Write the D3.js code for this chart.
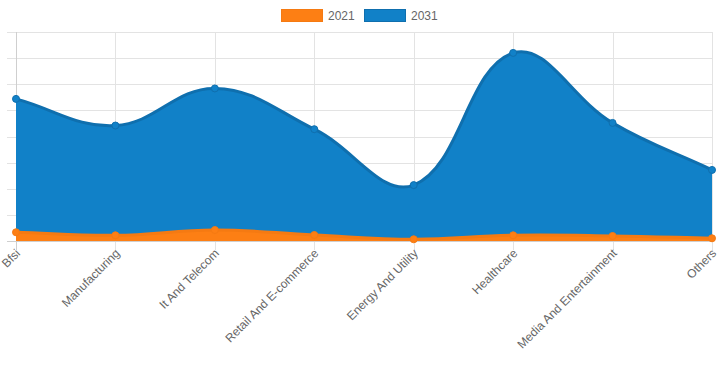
<!DOCTYPE html>
<html>
<head>
<meta charset="utf-8">
<script src="https://cdn.jsdelivr.net/npm/d3@7"></script>
<style>
  body { margin: 0; background: #fff; }
  svg { display: block; font-family: "Liberation Sans", Arial, sans-serif; }
</style>
</head>
<body>
<svg width="720" height="371"></svg>
<script>
var categories = ["Bfsi", "Manufacturing", "It And Telecom", "Retail And E-commerce",
  "Energy And Utility", "Healthcare", "Media And Entertainment", "Others"];
var values2021 = [1.67, 1.09, 2.1, 1.15, 0.33, 1.09, 0.96, 0.52];
var values2031 = [27.2, 22.1, 29.2, 21.4, 10.7, 36.0, 22.6, 13.6];
var yTicks = [0, 5, 10, 15, 20, 25, 30, 35, 40];

var svg = d3.select("svg");
var plotL = 16, plotR = 712, plotT = 32, plotB = 241;

var x = d3.scalePoint().domain(categories).range([plotL, plotR]);
var y = d3.scaleLinear().domain([0, 40]).range([plotB, plotT]);

// grid
var grid = svg.append("g").attr("stroke", "#e3e3e3").attr("stroke-width", 1);
grid.selectAll(".h").data(yTicks).enter().append("line")
  .attr("x1", plotL - 9).attr("x2", plotR)
  .attr("y1", d => Math.round(y(d)) + 0.5).attr("y2", d => Math.round(y(d)) + 0.5);
grid.selectAll(".v").data(categories).enter().append("line")
  .attr("x1", d => Math.round(x(d)) + 0.5).attr("x2", d => Math.round(x(d)) + 0.5)
  .attr("y1", plotT).attr("y2", plotB + 9);
svg.append("line").attr("stroke", "#cfcfcf")
  .attr("x1", plotL + 0.5).attr("x2", plotL + 0.5).attr("y1", plotT).attr("y2", plotB + 9);
svg.append("line").attr("stroke", "#cfcfcf")
  .attr("x1", plotL - 9).attr("x2", plotR).attr("y1", plotB + 0.5).attr("y2", plotB + 0.5);

// chart.js style spline
function splinePath(pts, closeToBase) {
  var t = 0.4, n = pts.length, cps = [];
  for (var i = 0; i < n; i++) {
    var prev = pts[Math.max(0, i - 1)], cur = pts[i], next = pts[Math.min(n - 1, i + 1)];
    var d01 = Math.hypot(cur[0] - prev[0], cur[1] - prev[1]);
    var d12 = Math.hypot(next[0] - cur[0], next[1] - cur[1]);
    var s01 = d01 / (d01 + d12), s12 = d12 / (d01 + d12);
    if (isNaN(s01)) s01 = 0; if (isNaN(s12)) s12 = 0;
    var fa = t * s01, fb = t * s12;
    var cp1 = [cur[0] - fa * (next[0] - prev[0]), cur[1] - fa * (next[1] - prev[1])];
    var cp2 = [cur[0] + fb * (next[0] - prev[0]), cur[1] + fb * (next[1] - prev[1])];
    [cp1, cp2].forEach(function (c) {
      c[0] = Math.max(plotL, Math.min(plotR, c[0]));
      c[1] = Math.max(plotT, Math.min(plotB, c[1]));
    });
    cps.push([cp1, cp2]);
  }
  var p = d3.path();
  p.moveTo(pts[0][0], pts[0][1]);
  for (var j = 1; j < n; j++) {
    p.bezierCurveTo(cps[j - 1][1][0], cps[j - 1][1][1], cps[j][0][0], cps[j][0][1], pts[j][0], pts[j][1]);
  }
  if (closeToBase) {
    p.lineTo(pts[n - 1][0], plotB);
    p.lineTo(pts[0][0], plotB);
    p.closePath();
  }
  return p.toString();
}

var series = [
  { label: "2031", values: values2031, fill: "#1181c8", stroke: "#0f6fae" },
  { label: "2021", values: values2021, fill: "#fd7f14", stroke: "#f57a12" }
];

series.forEach(function (s) {
  var pts = categories.map((c, i) => [x(c), y(s.values[i])]);
  var g = svg.append("g");
  g.append("path").attr("d", splinePath(pts, true)).attr("fill", s.fill);
  g.append("path").attr("d", splinePath(pts, false)).attr("fill", "none")
    .attr("stroke", s.stroke).attr("stroke-width", 3);
  g.selectAll("circle").data(pts).enter().append("circle")
    .attr("cx", d => d[0]).attr("cy", d => d[1]).attr("r", 3.5)
    .attr("fill", s.fill).attr("stroke", s.stroke).attr("stroke-width", 1);
});

// x labels
svg.append("g").selectAll("text").data(categories).enter().append("text")
  .attr("transform", d => "translate(" + (x(d) + 5) + "," + (plotB + 13) + ") rotate(-45)")
  .attr("text-anchor", "end")
  .attr("font-size", 12)
  .attr("fill", "#666")
  .text(d => d);

// legend
var legend = [
  { label: "2021", fill: "#fd7f14", stroke: "#f57a12", x: 281 },
  { label: "2031", fill: "#1181c8", stroke: "#0f6fae", x: 364 }
];
var lg = svg.append("g");
legend.forEach(function (l) {
  lg.append("rect").attr("x", l.x + 0.5).attr("y", 9.5).attr("width", 41).attr("height", 12)
    .attr("fill", l.fill).attr("stroke", l.stroke);
  lg.append("text").attr("x", l.x + 47).attr("y", 20).attr("font-size", 12)
    .attr("fill", "#666").text(l.label);
});
</script>
</body>
</html>
